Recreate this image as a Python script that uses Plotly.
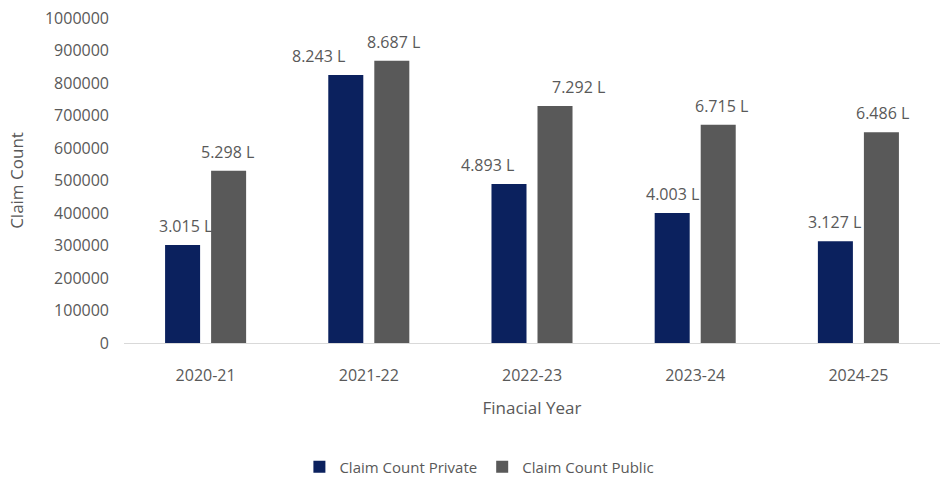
import plotly.graph_objects as go

years = ["2020-21", "2021-22", "2022-23", "2023-24", "2024-25"]
private_claims = [301500, 824300, 489300, 400300, 312700]
public_claims = [529800, 868700, 729200, 671500, 648600]
y_ticks = [0, 100000, 200000, 300000, 400000, 500000, 600000, 700000, 800000, 900000, 1000000]

# horizontal placement of the value labels (pixels from each year's centre)
private_label_dx = [-20, -50, -45, -23, -24]
public_label_dx = [22, 25, 46, 26, 24]

NAVY = "#0b215e"
GREY = "#595959"
TEXT = "#595959"
FONT = "Open Sans"


def lakh(v):
    return f"{v / 1e5:.3f} L"


fig = go.Figure()
fig.add_trace(go.Bar(name="Claim Count Private", x=years, y=private_claims,
                     marker=dict(color=NAVY, line=dict(width=0))))
fig.add_trace(go.Bar(name="Claim Count Public", x=years, y=public_claims,
                     marker=dict(color=GREY, line=dict(width=0))))

# value labels above each bar
for series, shifts in ((private_claims, private_label_dx), (public_claims, public_label_dx)):
    for yr, v, dx in zip(years, series, shifts):
        fig.add_annotation(x=yr, y=v, text=lakh(v), showarrow=False,
                           xshift=dx, yshift=19, yanchor="middle",
                           font=dict(family=FONT, size=16, color=TEXT))

fig.update_layout(
    width=940, height=480,
    margin=dict(l=124, r=0, t=18, b=137),
    plot_bgcolor="white", paper_bgcolor="white",
    barmode="group", bargap=0.436, bargroupgap=0.239,
    font=dict(family=FONT, size=16, color=TEXT),
    showlegend=True,
    legend=dict(orientation="h", xref="container", yref="container",
                x=0.51, xanchor="center", y=0.027, yanchor="middle",
                font=dict(family=FONT, size=15, color=TEXT),
                itemwidth=30, traceorder="normal"),
    xaxis=dict(type="category", showgrid=False, showline=True,
               linecolor="#d9d9d9", linewidth=1, ticks="",
               tickfont=dict(family=FONT, size=16, color=TEXT),
               ticklabelstandoff=18,
               title=dict(text="Finacial Year", standoff=16,
                          font=dict(family=FONT, size=17, color=TEXT))),
    yaxis=dict(range=[0, 1000000], tickvals=y_ticks,
               ticktext=[str(t) for t in y_ticks],
               showgrid=False, showline=False, zeroline=False, ticks="",
               tickfont=dict(family=FONT, size=16, color=TEXT),
               ticklabelstandoff=14,
               title=dict(text="Claim Count", standoff=17,
                          font=dict(family=FONT, size=17, color=TEXT))),
)

fig.write_html("out.html")
